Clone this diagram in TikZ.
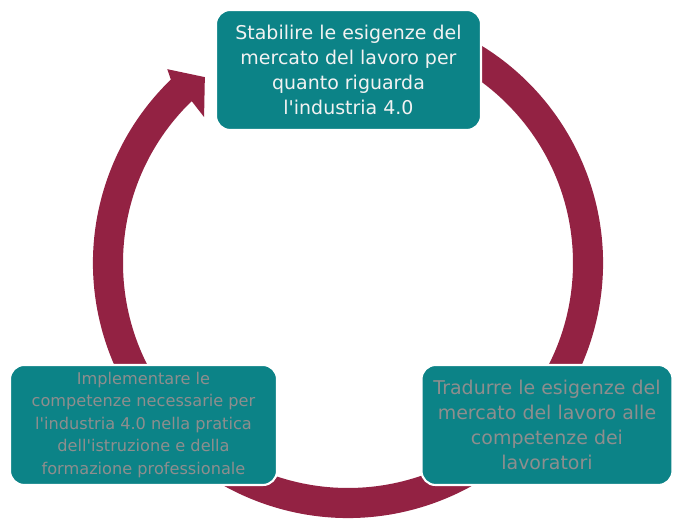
\documentclass[tikz,border=0pt]{standalone}
\usepackage{fontspec}
\setmainfont{DejaVu Sans}[Ligatures=TeXOff]
\definecolor{cyclering}{HTML}{932243}
\definecolor{cyclebox}{HTML}{0C8387}
\definecolor{boxgrey}{HTML}{8E8E8E}

\begin{document}
\begin{tikzpicture}[
					ring/.style={fill=cyclering},
					stepbox/.style={draw=white, line width=1.5pt, fill=cyclebox, rounded corners=10pt, minimum height=3cm, align=center, inner sep=2pt, font=\fontsize{13.5}{17.6}\selectfont},
					smalltext/.style={font=\fontsize{11.5}{16}\selectfont}
				]
				% Parámetros del anillo
				\def\cx{8.7}      % centro x
				\def\cy{6.425}    % centro y
				\def\ro{6.375}    % radio exterior
				\def\ri{5.625}    % radio interior

				\useasboundingbox (0,0) rectangle (16.875,13);

				% --- Anillo con flecha ---
				\begin{scope}[shift={(\cx,\cy)}]
					\fill[ring] (70:\ro) arc[start angle=70, end angle=-226, radius=\ro]
						-- (133:6.625) -- (127.6:5.865) -- (134.6:5.125) -- (134:\ri)
						arc[start angle=134, end angle=430, radius=\ri] -- cycle;
				\end{scope}

				% --- Caja superior ---
				\node[stepbox, minimum width=6.625cm, text=white!95!black] (stabilire) at (8.7125,11.25)
					{Stabilire le esigenze del\\mercato del lavoro per\\quanto riguarda\\l'industria 4.0};

				% --- Caja derecha ---
				\node[stepbox, minimum width=6.275cm, text=boxgrey] (tradurre) at (13.675,2.375)
					{Tradurre le esigenze del\\mercato del lavoro alle\\competenze dei\\lavoratori};

				% --- Caja izquierda ---
				\node[stepbox, smalltext, minimum width=6.675cm, text=boxgrey] (implementare) at (3.5875,2.375)
					{Implementare le\\competenze necessarie per\\l'industria 4.0 nella pratica\\dell'istruzione e della\\formazione professionale};

			\end{tikzpicture}
\end{document}
